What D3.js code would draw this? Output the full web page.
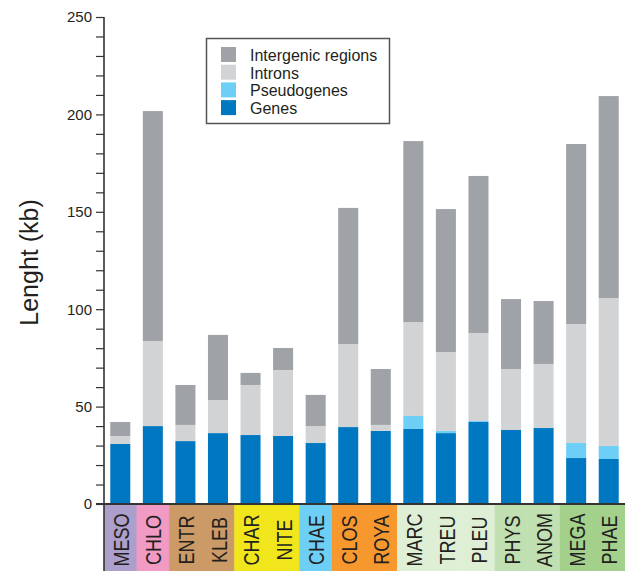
<!DOCTYPE html>
<html>
<head>
<meta charset="utf-8">
<script src="https://cdn.jsdelivr.net/npm/d3@7"></script>
<style>
  body { margin: 0; background: #fff; }
  svg { display: block; font-family: "Liberation Sans", Arial, Helvetica, sans-serif; }
</style>
</head>
<body>
<div id="wrapper"></div>
<script>
// data (kb)
const categories = ["MESO","CHLO","ENTR","KLEB","CHAR","NITE","CHAE","CLOS","ROYA","MARC","TREU","PLEU","PHYS","ANOM","MEGA","PHAE"];
const genes      = [30.8, 40.0, 32.3, 36.4, 35.4, 34.9, 31.3, 39.5, 37.5, 38.5, 36.4, 42.1, 38.0, 39.0, 23.6, 23.1];
const pseudo     = [0, 0, 0, 0, 0, 0, 0, 0, 0, 6.7, 1.1, 0.5, 0, 0, 7.7, 6.7];
const introns    = [4.1, 43.7, 8.3, 17.0, 25.7, 33.9, 8.7, 42.6, 3.1, 48.2, 40.5, 45.2, 31.3, 32.9, 61.1, 75.9];
const intergenic = [7.2, 118.0, 20.5, 33.4, 6.2, 11.3, 16.0, 69.9, 28.7, 92.9, 73.4, 80.6, 35.9, 32.3, 92.4, 103.7];
// taxonomic group of each category (background colour of the label strip)
const groups = ["g1","g2","g3","g3","g4","g4","g5","g6","g6","g7","g7","g7","g8","g8","g9","g9"];
const yTicks = [0, 50, 100, 150, 200, 250];

const groupColor = {
  g1: "#ad9fcb", g2: "#f19ac4", g3: "#cc9a66", g4: "#f1e61c", g5: "#6dcff6",
  g6: "#f7982f", g7: "#dfefd6", g8: "#c1e0b1", g9: "#a3d18b"
};
const keys = ["genes", "pseudo", "introns", "intergenic"];
const colors = { genes: "#0078c1", pseudo: "#6dcff6", introns: "#d2d3d5", intergenic: "#9fa2a6" };
const legendItems = [
  { key: "intergenic", label: "Intergenic regions" },
  { key: "introns", label: "Introns" },
  { key: "pseudo", label: "Pseudogenes" },
  { key: "genes", label: "Genes" }
];

const width = 625, height = 571;
const margin = { top: 17, left: 104, bottom: 67, right: 0 };

const rows = categories.map((c, i) => ({
  cat: c, genes: genes[i], pseudo: pseudo[i], introns: introns[i], intergenic: intergenic[i]
}));

const svg = d3.select("#wrapper").append("svg")
  .attr("width", width)
  .attr("height", height);

const x = d3.scaleBand()
  .domain(categories)
  .range([margin.left, width - margin.right])
  .padding(0);

const y = d3.scaleLinear()
  .domain([0, 250])
  .range([height - margin.bottom, margin.top]);

const barW = x.bandwidth() * 0.615;

// label strip backgrounds
svg.append("g").selectAll("rect")
  .data(categories)
  .join("rect")
  .attr("x", d => x(d))
  .attr("y", y(0))
  .attr("width", x.bandwidth() + 0.5)
  .attr("height", height - y(0))
  .attr("fill", (d, i) => groupColor[groups[i]]);

// stacked bars
const stacked = d3.stack().keys(keys)(rows);
svg.append("g").selectAll("g")
  .data(stacked)
  .join("g")
  .attr("fill", s => colors[s.key])
  .selectAll("rect")
  .data(s => s)
  .join("rect")
  .attr("x", d => x(d.data.cat) + (x.bandwidth() - barW) / 2)
  .attr("y", d => y(d[1]))
  .attr("width", barW)
  .attr("height", d => y(d[0]) - y(d[1]));

// category labels, rotated (glyphs look a bit wide in the original)
svg.append("g").selectAll("text")
  .data(categories)
  .join("text")
  .attr("transform", d => `translate(${x(d) + x.bandwidth() / 2 + 1},540) rotate(-90) scale(1,1.2)`)
  .attr("text-anchor", "middle")
  .attr("dominant-baseline", "central")
  .attr("font-size", 18)
  .attr("fill", "#231f20")
  .text(d => d);

// y axis: tick every 10, label every 50
const yAxis = d3.axisLeft(y)
  .tickValues(d3.range(0, 251, 10))
  .tickSize(8)
  .tickPadding(4)
  .tickFormat(d => yTicks.includes(d) ? d : "");

const gy = svg.append("g")
  .attr("transform", `translate(${margin.left},0)`)
  .call(yAxis);
gy.select(".domain").remove();
gy.selectAll(".tick line").attr("stroke", "#333").attr("stroke-width", 1.2);
gy.selectAll(".tick text")
  .attr("font-family", "Liberation Sans, Arial, sans-serif")
  .attr("font-size", 15)
  .attr("fill", "#231f20");

// axis lines
svg.append("line")
  .attr("x1", margin.left).attr("x2", margin.left)
  .attr("y1", y(250)).attr("y2", height)
  .attr("stroke", "#333").attr("stroke-width", 1.6);
svg.append("line")
  .attr("x1", margin.left - 8).attr("x2", width)
  .attr("y1", y(0)).attr("y2", y(0))
  .attr("stroke", "#333").attr("stroke-width", 1.8);

// y title
svg.append("text")
  .attr("transform", `translate(38,${(y(0) + y(250)) / 2 + 2}) rotate(-90)`)
  .attr("text-anchor", "middle")
  .attr("font-size", 25)
  .attr("fill", "#231f20")
  .text("Lenght (kb)");

// legend
const legend = svg.append("g");
legend.append("rect")
  .attr("x", 206.5).attr("y", 38.5)
  .attr("width", 183).attr("height", 85)
  .attr("fill", "none")
  .attr("stroke", "#555").attr("stroke-width", 1.5);
const li = legend.selectAll("g")
  .data(legendItems)
  .join("g")
  .attr("transform", (d, i) => `translate(221,${47 + i * 17.7})`);
li.append("rect")
  .attr("width", 15).attr("height", 15)
  .attr("fill", d => colors[d.key]);
li.append("text")
  .attr("x", 29).attr("y", 14)
  .attr("font-size", 16)
  .attr("fill", "#231f20")
  .text(d => d.label);
</script>
</body>
</html>
